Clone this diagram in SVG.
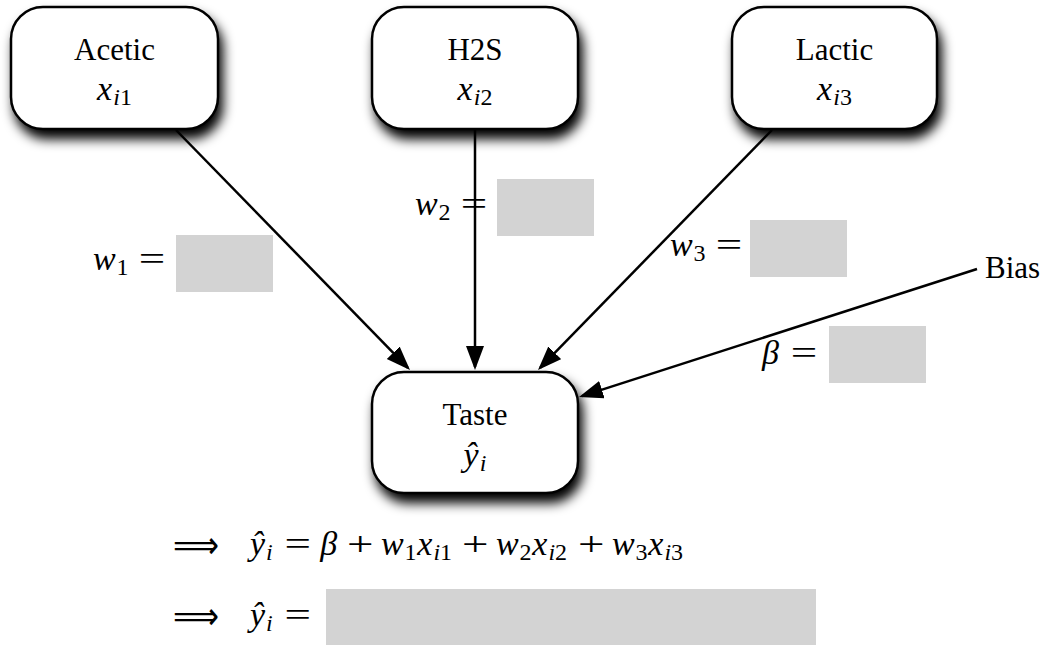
<svg xmlns="http://www.w3.org/2000/svg" width="1046" height="645" viewBox="0 0 1046 645">
<style>
.box{fill:#fff;stroke:#000;stroke-width:2.5;filter:url(#shadow)}
.lbl{font-family:"Liberation Serif","Times New Roman",serif;font-size:31px;fill:#000;text-anchor:middle}
.m{font-family:"Liberation Serif","Times New Roman",serif;font-size:34px;font-style:italic;fill:#000}
.s{font-size:24px}
.d{font-style:normal}
.op{font-family:"Liberation Serif","Times New Roman",serif;font-size:34px;fill:#000}
.arr{font-family:"DejaVu Sans",sans-serif;font-size:38px;fill:#000}
.edge{stroke:#000;stroke-width:2.5;fill:none;marker-end:url(#ah)}
.blank{fill:#d3d3d3}
</style>
<defs>
<filter id="shadow" x="-20%" y="-20%" width="145%" height="160%">
<feGaussianBlur in="SourceAlpha" stdDeviation="6"/>
<feOffset dx="4" dy="9" result="b"/>
<feComponentTransfer><feFuncA type="linear" slope="1"/></feComponentTransfer>
<feMerge><feMergeNode/><feMergeNode in="SourceGraphic"/></feMerge>
</filter>
<marker id="ah" markerUnits="userSpaceOnUse" markerWidth="26" markerHeight="20" refX="21" refY="9" orient="auto">
<path d="M0,0 L24,9 L0,18 z" fill="#000"/>
</marker>
</defs>

<g id="node-acetic">
<rect class="box" x="11" y="7" width="207" height="122" rx="32"/>
<text class="lbl" x="114.5" y="60">Acetic</text>
<text class="m" y="100"><tspan x="97.1">x</tspan><tspan class="s" x="113.2" y="105">i</tspan><tspan class="s d" x="119.9" y="105">1</tspan></text>
</g>

<g id="node-h2s">
<rect class="box" x="372" y="7" width="206" height="122" rx="32"/>
<text class="lbl" x="475" y="60">H2S</text>
<text class="m" y="100"><tspan x="457.6">x</tspan><tspan class="s" x="473.7" y="105">i</tspan><tspan class="s d" x="480.4" y="105">2</tspan></text>
</g>

<g id="node-lactic">
<rect class="box" x="732" y="7" width="205" height="122" rx="32"/>
<text class="lbl" x="834.5" y="60">Lactic</text>
<text class="m" y="100"><tspan x="817.1">x</tspan><tspan class="s" x="833.2" y="105">i</tspan><tspan class="s d" x="839.9" y="105">3</tspan></text>
</g>

<g id="node-taste">
<rect class="box" x="372" y="372" width="206" height="121" rx="32"/>
<text class="lbl" x="475" y="425">Taste</text>
<text class="m" y="466"><tspan x="463.6">ŷ</tspan><tspan class="s" x="479.7" y="471">i</tspan></text>
</g>

<g id="node-bias">
<text class="lbl" x="985" y="278" style="text-anchor:start">Bias</text>
</g>

<g id="connectors">
<line class="edge" x1="176" y1="130" x2="407.9" y2="367.85"/>
<line class="edge" x1="475" y1="130" x2="475" y2="367"/>
<line class="edge" x1="772" y1="130" x2="540.1" y2="367.85"/>
<line class="edge" x1="977" y1="269" x2="581.9" y2="396.1"/>
</g>

<g id="weights">
<text class="m" y="270"><tspan x="93">w</tspan><tspan class="s d" x="116.5" y="275">1</tspan></text>
<text class="op" x="138.7" y="270" textLength="26.5" lengthAdjust="spacingAndGlyphs">=</text>
<rect class="blank" x="176" y="235" width="97" height="57"/>

<text class="m" y="215"><tspan x="415">w</tspan><tspan class="s d" x="438.5" y="220">2</tspan></text>
<text class="op" x="460.7" y="215" textLength="26.5" lengthAdjust="spacingAndGlyphs">=</text>
<rect class="blank" x="497" y="179" width="97" height="57"/>

<text class="m" y="256"><tspan x="670">w</tspan><tspan class="s d" x="693.5" y="261">3</tspan></text>
<text class="op" x="715.7" y="256" textLength="26.5" lengthAdjust="spacingAndGlyphs">=</text>
<rect class="blank" x="750" y="220" width="97" height="57"/>

<text class="m" x="762" y="364">β</text>
<text class="op" x="790.7" y="364" textLength="26.5" lengthAdjust="spacingAndGlyphs">=</text>
<rect class="blank" x="829" y="326" width="97" height="57"/>
</g>

<g id="equation-1">
<text class="arr" x="173" y="558" textLength="46" lengthAdjust="spacingAndGlyphs">⟹</text>
<text class="m" y="555"><tspan x="250">ŷ</tspan><tspan class="s" x="266.1" y="560">i</tspan></text>
<text class="op" x="284.4" y="555" textLength="26.5" lengthAdjust="spacingAndGlyphs">=</text>
<text class="m" x="320.3" y="555">β</text>
<text class="op" x="347" y="555" textLength="26.5" lengthAdjust="spacingAndGlyphs">+</text>
<text class="m" y="555"><tspan x="381">w</tspan><tspan class="s d" x="404.5" y="560">1</tspan><tspan x="417.3" y="555">x</tspan><tspan class="s" x="433.4" y="560">i</tspan><tspan class="s d" x="440.1" y="560">1</tspan></text>
<text class="op" x="462" y="555" textLength="26.5" lengthAdjust="spacingAndGlyphs">+</text>
<text class="m" y="555"><tspan x="496">w</tspan><tspan class="s d" x="519.5" y="560">2</tspan><tspan x="532.3" y="555">x</tspan><tspan class="s" x="548.4" y="560">i</tspan><tspan class="s d" x="555.1" y="560">2</tspan></text>
<text class="op" x="578" y="555" textLength="26.5" lengthAdjust="spacingAndGlyphs">+</text>
<text class="m" y="555"><tspan x="612">w</tspan><tspan class="s d" x="635.5" y="560">3</tspan><tspan x="648.3" y="555">x</tspan><tspan class="s" x="664.4" y="560">i</tspan><tspan class="s d" x="671.1" y="560">3</tspan></text>
</g>

<g id="equation-2">
<text class="arr" x="173" y="629" textLength="46" lengthAdjust="spacingAndGlyphs">⟹</text>
<text class="m" y="626"><tspan x="250">ŷ</tspan><tspan class="s" x="266.1" y="631">i</tspan></text>
<text class="op" x="284.4" y="626" textLength="26.5" lengthAdjust="spacingAndGlyphs">=</text>
<rect class="blank" x="326" y="589" width="490" height="56"/>
</g>
</svg>
